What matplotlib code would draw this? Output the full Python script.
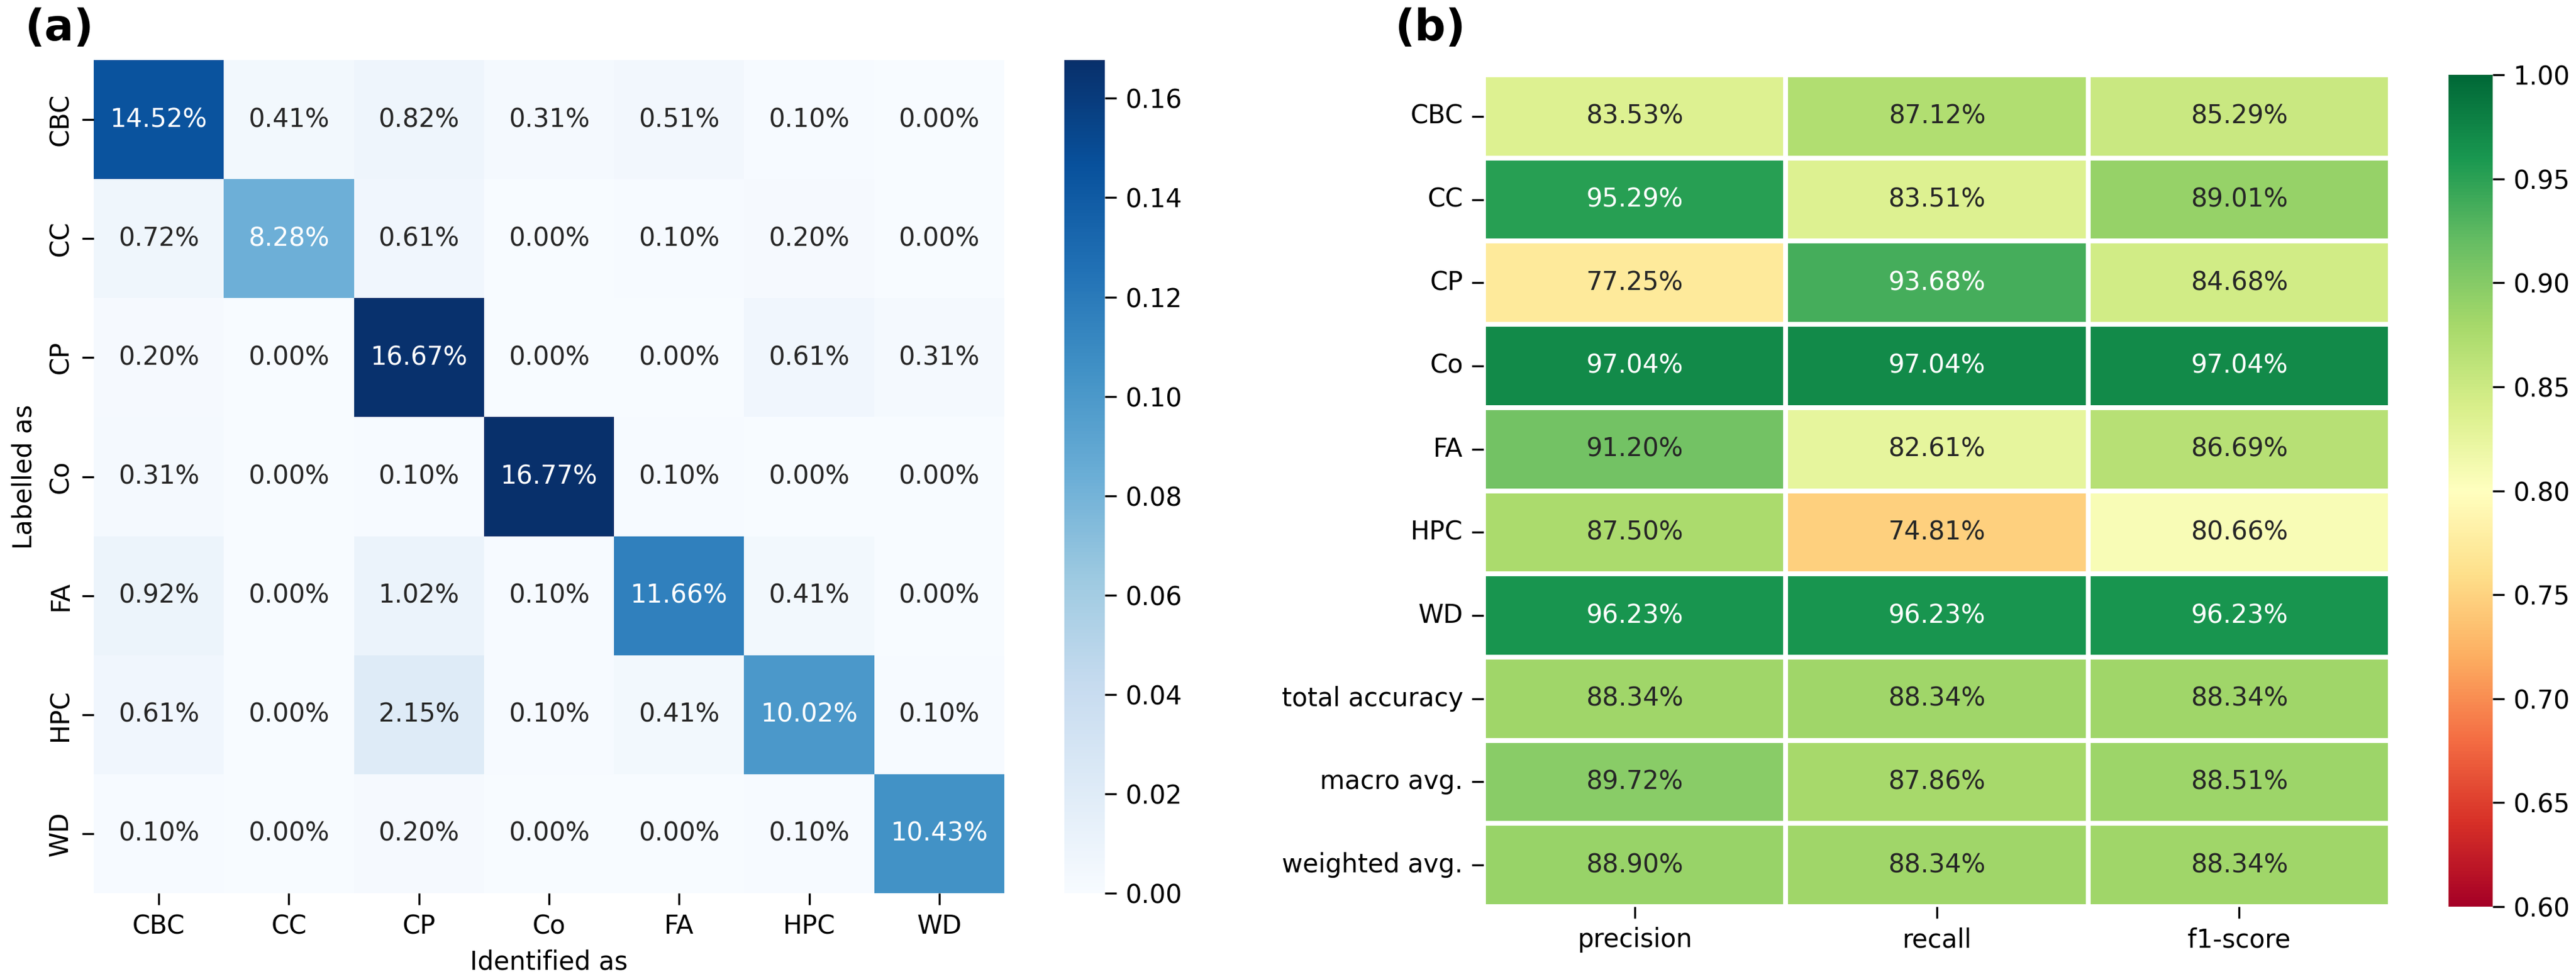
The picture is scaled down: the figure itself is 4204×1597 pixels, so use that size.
import numpy as np
import matplotlib
matplotlib.use('Agg')
import matplotlib.pyplot as plt
import seaborn as sns

# classes used in both panels
classes = ['CBC', 'CC', 'CP', 'Co', 'FA', 'HPC', 'WD']

# (a) normalised confusion matrix, in percent (rows: labelled, cols: identified)
cm_cbc = [14.52, 0.41, 0.82, 0.31, 0.51, 0.10, 0.00]
cm_cc = [0.72, 8.28, 0.61, 0.00, 0.10, 0.20, 0.00]
cm_cp = [0.20, 0.00, 16.67, 0.00, 0.00, 0.61, 0.31]
cm_co = [0.31, 0.00, 0.10, 16.77, 0.10, 0.00, 0.00]
cm_fa = [0.92, 0.00, 1.02, 0.10, 11.66, 0.41, 0.00]
cm_hpc = [0.61, 0.00, 2.15, 0.10, 0.41, 10.02, 0.10]
cm_wd = [0.10, 0.00, 0.20, 0.00, 0.00, 0.10, 10.43]

# (b) classification report, in percent
report_rows = classes + ['total accuracy', 'macro avg.', 'weighted avg.']
report_cols = ['precision', 'recall', 'f1-score']
precision = [83.53, 95.29, 77.25, 97.04, 91.20, 87.50, 96.23, 88.34, 89.72, 88.90]
recall = [87.12, 83.51, 93.68, 97.04, 82.61, 74.81, 96.23, 88.34, 87.86, 88.34]
f1_score = [85.29, 89.01, 84.68, 97.04, 86.69, 80.66, 96.23, 88.34, 88.51, 88.34]

W, H = 4204, 1597
FS = 10

def box(x0, y0, x1, y1):
    # pixel box (top-left origin) -> figure fraction
    return [x0 / W, 1 - y1 / H, (x1 - x0) / W, (y1 - y0) / H]

fig = plt.figure(figsize=(W / 300, H / 300), dpi=300)

ax_a = fig.add_axes(box(153, 98, 1639, 1457))
cax_a = fig.add_axes(box(1737, 98, 1803, 1457))
ax_b = fig.add_axes(box(2421, 122, 3901, 1479))
cax_b = fig.add_axes(box(3996, 122, 4068, 1479))

# ---- panel (a)
cm = np.array([cm_cbc, cm_cc, cm_cp, cm_co, cm_fa, cm_hpc, cm_wd]) / 100.0
cm_txt = np.array([[f'{v * 100:.2f}%' for v in row] for row in cm])
sns.heatmap(cm, ax=ax_a, cbar_ax=cax_a, cmap='Blues', vmin=0,
            annot=cm_txt, fmt='', annot_kws={'size': FS},
            xticklabels=classes, yticklabels=classes)
ax_a.set_xlabel('Identified as', fontsize=FS)
ax_a.set_ylabel('Labelled as', fontsize=FS)
ax_a.tick_params(labelsize=FS, length=4.5)
plt.setp(ax_a.get_yticklabels(), rotation=90, va='center')
plt.setp(ax_a.get_xticklabels(), rotation=0)
cax_a.set_yticks(np.arange(0, 0.17, 0.02))
cax_a.set_yticklabels([f'{t:.2f}' for t in np.arange(0, 0.17, 0.02)])
cax_a.tick_params(labelsize=FS, length=4.5)

# ---- panel (b)
rep = np.array([precision, recall, f1_score]).T / 100.0
rep_txt = np.array([[f'{v * 100:.2f}%' for v in row] for row in rep])
sns.heatmap(rep, ax=ax_b, cbar_ax=cax_b, cmap='RdYlGn', vmin=0.6, vmax=1.0,
            annot=rep_txt, fmt='', annot_kws={'size': FS},
            linewidths=1.5, linecolor='white',
            xticklabels=report_cols, yticklabels=report_rows)
# white text on the dark green cells, as in the original
for txt, v in zip(ax_b.texts, rep.ravel()):
    txt.set_color('w' if v > 0.93 else '.15')
ax_b.tick_params(labelsize=FS, length=4.5)
plt.setp(ax_b.get_yticklabels(), rotation=0, va='center')
plt.setp(ax_b.get_xticklabels(), rotation=0)
cax_b.set_yticks(np.arange(0.60, 1.001, 0.05))
cax_b.set_yticklabels([f'{t:.2f}' for t in np.arange(0.60, 1.001, 0.05)])
cax_b.tick_params(labelsize=FS, length=4.5)

fig.text(41 / W, 1 - 12 / H, '(a)', fontsize=17, fontweight='bold', va='top', ha='left')
fig.text(2277 / W, 1 - 12 / H, '(b)', fontsize=17, fontweight='bold', va='top', ha='left')

fig.savefig('out.png', dpi=300)
